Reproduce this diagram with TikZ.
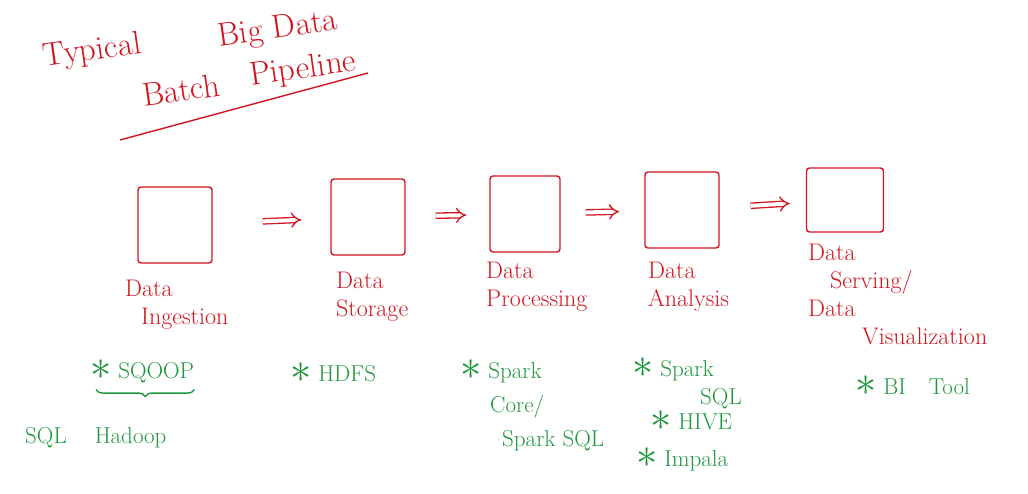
\documentclass[tikz,border=0pt]{standalone}
\usepackage{amsmath}
\usepackage{amssymb}
\usepackage{graphicx}
\usepackage{tikz}
\usetikzlibrary{arrows.meta,decorations.pathreplacing,positioning}
\definecolor{penred}{RGB}{210,20,30}
\definecolor{pengreen}{RGB}{30,150,60}
\newcommand{\toolmark}{\raisebox{-1pt}{\scalebox{1.7}{$\ast$}}\ }
\tikzset{stage node/.style={rectangle, draw=penred, line width=1.4pt, rounded corners=3pt,
    minimum width=74pt, minimum height=76pt}}
\tikzset{stage label/.style={text=penred, font=\fontsize{24}{28}\selectfont, align=left, anchor=north west, inner sep=0pt}}
\tikzset{tool label/.style={text=pengreen, font=\fontsize{23}{28}\selectfont, align=left, anchor=north west, inner sep=0pt}}
\tikzset{title text/.style={text=penred, font=\fontsize{33}{38}\selectfont, rotate=8, inner sep=0pt}}
\tikzset{flow edge/.style={draw=penred, line width=1.3pt, double distance=4pt, -{Implies}}}
\tikzset{pen line/.style={draw=penred, line width=1.4pt}}
\tikzset{tool brace/.style={draw=pengreen, line width=1.4pt, decorate, decoration={brace, mirror, amplitude=7pt}}}

\begin{document}
\begin{tikzpicture}
  [x=1pt, y=-1pt]
  \useasboundingbox (0,0) rectangle (1028,494);

  % title
  \node [title text]    (typical)  at ( 92, 52) {Typical};
  \node [title text]    (bigdata)  at (278, 30) {Big Data};
  \node [title text]    (batch)    at (181, 90) {Batch};
  \node [title text]    (pipeline) at (303, 70) {Pipeline};
  \coordinate           (ul-start) at (120,140);
  \coordinate           (ul-end)   at (368, 73);
  \draw [pen line]      (ul-start) -- (ul-end);

  % stages
  \node [stage node]                                         (ingest)  at (175,225) {};
  \node [stage node]                                         (store)   at (368,217) {};
  \node [stage node, minimum width=70pt]                     (process) at (525,214) {};
  \node [stage node]                                         (analyse) at (682,210) {};
  \node [stage node, minimum width=77pt, minimum height=64pt] (serve)   at (845,200) {};

  \draw [flow edge, shorten <=50pt, shorten >=29pt] (ingest)  -- (store);
  \draw [flow edge, shorten <=30pt, shorten >=23pt] (store)   -- (process);
  \draw [flow edge, shorten <=25pt, shorten >=25pt] (process) -- (analyse);
  \draw [flow edge, shorten <=31pt, shorten >=16pt] (analyse) -- (serve);

  \node [stage label]   (l-ingest)  at (125,280) {Data\\\hspace{16pt}Ingestion};
  \node [stage label]   (l-store)   at (336,272) {Data\\Storage};
  \node [stage label]   (l-process) at (486,262) {Data\\Processing};
  \node [stage label]   (l-analyse) at (648,262) {Data\\Analysis};
  \node [stage label]   (l-serve)   at (808,244) {Data\\\hspace{22pt}Serving/\\Data\\\hspace{54pt}Visualization};

  % tools
  \node [tool label]    (sqoop)     at ( 90,360) {\toolmark SQOOP};
  \draw [tool brace]    ([xshift=6pt,yshift=-6pt]sqoop.south west) -- ([yshift=-6pt]sqoop.south east);
  \node [tool label]    (sqlhadoop) at ( 25,427) {SQL\hspace{28pt}Hadoop};
  \node [tool label]    (hdfs)      at (290,363) {\toolmark HDFS};
  \node [tool label]    (sparkcore) at (460,360) {\toolmark Spark\\[6pt]\hspace{30pt}Core/\\[6pt]\hspace{42pt}Spark SQL};
  \node [tool label]    (sparksql)  at (632,358) {\toolmark Spark\\\hspace{68pt}SQL};
  \node [tool label]    (hive)      at (650,411) {\toolmark HIVE};
  \node [tool label]    (impala)    at (636,448) {\toolmark Impala};
  \node [tool label]    (bitool)    at (855,376) {\toolmark BI\quad Tool};
\end{tikzpicture}
\end{document}
